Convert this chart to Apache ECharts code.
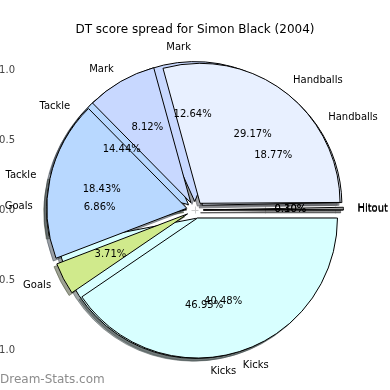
<!DOCTYPE html>
<html><head><meta charset="utf-8">
<script src="https://cdn.jsdelivr.net/npm/echarts@6/dist/echarts.min.js"></script>
<style>html,body{margin:0;padding:0;background:#fff}#c{width:390px;height:390px}</style>
</head><body><div id="c"></div>
<script>
// ---- data ----
const categories = ['Hitout', 'Handballs', 'Mark', 'Tackle', 'Goals', 'Kicks'];
const spreadTop = [0.10, 29.17, 8.12, 18.43, 3.71, 40.48];      // pie drawn on top
const spreadUnder = [0.30, 18.77, 12.64, 14.44, 6.86, 46.95];   // pie drawn underneath
const axisTicks = [-1.0, -0.5, 0.0, 0.5, 1.0];
const titleText = 'DT score spread for Simon Black (2004)';
const watermark = 'Dream-Stats.com';

// ---- styles ----
const colors = ['#ffffff', '#e8f0ff', '#c8d8ff', '#b8d8ff', '#d0ea8c', '#d8ffff'];
const FONT = '"DejaVu Sans", sans-serif';
const CX = 195, CY = 210, U = 140;
const R = 1.0 * U, EXPL = 0.06 * U, SH = 0.02 * U;

function shade(hex) {
  const n = parseInt(hex.slice(1), 16);
  const r = Math.round(((n >> 16) & 255) * 0.3), g = Math.round(((n >> 8) & 255) * 0.3), b = Math.round((n & 255) * 0.3);
  return 'rgb(' + r + ',' + g + ',' + b + ')';
}

const common = {
  type: 'pie', startAngle: 0, clockwise: false, selectedMode: 'multiple', selectedOffset: EXPL,
  avoidLabelOverlap: false, animation: false, emphasis: { disabled: true }, minShowLabelAngle: 0,
  labelLayout: { hideOverlap: false }
};

function shadowSeries(values) {
  return Object.assign({}, common, {
    z: 1, center: [CX - SH, CY + SH], radius: R,
    label: { show: false }, labelLine: { show: false },
    data: categories.map((n, i) => ({
      name: n, value: values[i], selected: true,
      itemStyle: { color: shade(colors[i]), opacity: 0.5, borderColor: shade(colors[i]), borderWidth: 1 }
    }))
  });
}

function wedgeSeries(values, z) {
  return Object.assign({}, common, {
    z: z, center: [CX, CY], radius: R,
    itemStyle: { borderColor: '#000', borderWidth: 1 },
    label: { show: true, position: 'outside', formatter: '{b}', fontFamily: FONT, fontSize: 10, color: '#000', distanceToLabelLine: 0 },
    labelLine: { show: false, length: 0.1 * R, length2: 0 },
    data: categories.map((n, i) => ({ name: n, value: values[i], selected: true, itemStyle: { color: colors[i] } }))
  });
}

function pctSeries(values) {
  return Object.assign({}, common, {
    z: 5, center: [CX, CY], radius: [0, 1.2 * R],
    itemStyle: { color: 'rgba(0,0,0,0)', borderWidth: 0 },
    label: { show: true, position: 'inside', fontFamily: FONT, fontSize: 10, color: '#000',
      formatter: p => values[p.dataIndex].toFixed(2) + '%' },
    labelLine: { show: false },
    data: categories.map((n, i) => ({ name: n, value: values[i], selected: true }))
  });
}

const fmt = v => (v < 0 ? '\u2212' : '') + Math.abs(v).toFixed(1);
function axisDef(pos, isX, showLabels) {
  return {
    type: 'value', position: pos, min: -1.25, max: 1.25,
    axisLine: { show: false }, splitLine: { show: false },
    axisTick: { show: true, inside: true, length: 3.5, lineStyle: { color: '#c8c8c8', width: 1 }, customValues: axisTicks },
    axisLabel: { show: showLabels, customValues: axisTicks, formatter: fmt, margin: isX ? 5 : 5,
      fontFamily: FONT, fontSize: 10, color: '#444', hideOverlap: false }
  };
}

const chart = echarts.init(document.getElementById('c'), null, { renderer: 'canvas' });
chart.setOption({
  animation: false,
  title: { text: titleText, left: 'center', top: 19, textStyle: { fontFamily: FONT, fontSize: 12, fontWeight: 'normal', color: '#000' } },
  grid: { left: 20, top: 35, width: 350, height: 350, containLabel: false, outerBoundsMode: 'none' },
  xAxis: [axisDef('bottom', true, true), axisDef('top', true, false)],
  yAxis: [axisDef('left', false, true), axisDef('right', false, false)],
  graphic: [{ type: 'text', left: 0, top: 374, z: 10, style: { text: watermark, fill: '#8c8c8c', font: '12px "DejaVu Sans"' } }],
  series: [
    shadowSeries(spreadUnder), shadowSeries(spreadTop),
    wedgeSeries(spreadUnder, 2), wedgeSeries(spreadTop, 3),
    pctSeries(spreadUnder), pctSeries(spreadTop)
  ]
});
</script></body></html>
